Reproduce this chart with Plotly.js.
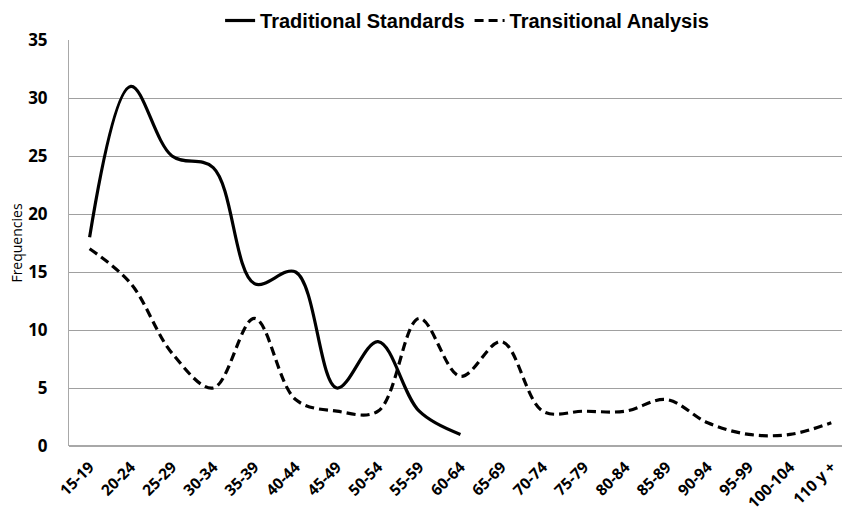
<!DOCTYPE html>
<html>
<head>
<meta charset="utf-8">
<script src="https://cdn.plot.ly/plotly-3.0.1.min.js"></script>
<style>html,body{margin:0;padding:0;background:#fff;}#chart{width:842px;height:516px;}</style>
</head>
<body>
<div id="chart"></div>
<script>
const ageGroups = ["15-19","20-24","25-29","30-34","35-39","40-44","45-49","50-54","55-59","60-64","65-69","70-74","75-79","80-84","85-89","90-94","95-99","100-104","110 y +"];
const traditionalStandards = [18,31,25,24,14,15,5,9,3,1];
const transitionalAnalysis = [17,14,8,5,11,4,3,3,11,6,9,3,3,3,4,2,1,1,2];
const yTicks = [0,5,10,15,20,25,30,35];

const traces = [
  {
    x: ageGroups.slice(0, traditionalStandards.length),
    y: traditionalStandards,
    name: "Traditional Standards",
    type: "scatter", mode: "lines",
    line: {color: "#000000", width: 3.2, shape: "spline", smoothing: 1},
    hoverinfo: "skip"
  },
  {
    x: ageGroups,
    y: transitionalAnalysis,
    name: "Transitional Analysis",
    type: "scatter", mode: "lines",
    line: {color: "#000000", width: 3.2, shape: "spline", smoothing: 1, dash: "9px,5px"},
    hoverinfo: "skip"
  }
];

const layout = {
  width: 842, height: 516,
  margin: {l: 69, r: 0, t: 40, b: 70},
  paper_bgcolor: "#ffffff",
  plot_bgcolor: "#ffffff",
  showlegend: true,
  legend: {
    orientation: "h",
    x: 0.515, xanchor: "center",
    y: 1.0, yanchor: "bottom",
    font: {family: "Liberation Sans, Arial, sans-serif", size: 20, color: "#000", weight: 700},
    itemwidth: 30,
    tracegroupgap: 0,
    bgcolor: "rgba(0,0,0,0)"
  },
  xaxis: {
    type: "category",
    categoryorder: "array",
    categoryarray: ageGroups,
    range: [-0.5, 18.26],
    showgrid: false,
    zeroline: false,
    showline: false,
    ticks: "",
    tickangle: -45,
    ticklabelstandoff: 8,
    tickfont: {family: "Open Sans, sans-serif", size: 15.5, color: "#000", weight: 700},
    fixedrange: true
  },
  yaxis: {
    range: [0, 35],
    tickvals: yTicks,
    ticktext: yTicks.map(String),
    showgrid: true,
    gridcolor: "#a0a0a0",
    gridwidth: 1,
    zeroline: true,
    zerolinecolor: "#a8a8a8",
    zerolinewidth: 2,
    showline: true,
    linecolor: "#a8a8a8",
    linewidth: 1,
    ticks: "",
    ticklabelstandoff: 17,
    tickfont: {family: "Open Sans, sans-serif", size: 17, color: "#000", weight: 700},
    title: {text: "Frequencies", font: {family: "Open Sans, sans-serif", size: 14, color: "#000"}, standoff: 2},
    fixedrange: true
  }
};

Plotly.newPlot("chart", traces, layout, {displayModeBar: false, staticPlot: true});
</script>
</body>
</html>
